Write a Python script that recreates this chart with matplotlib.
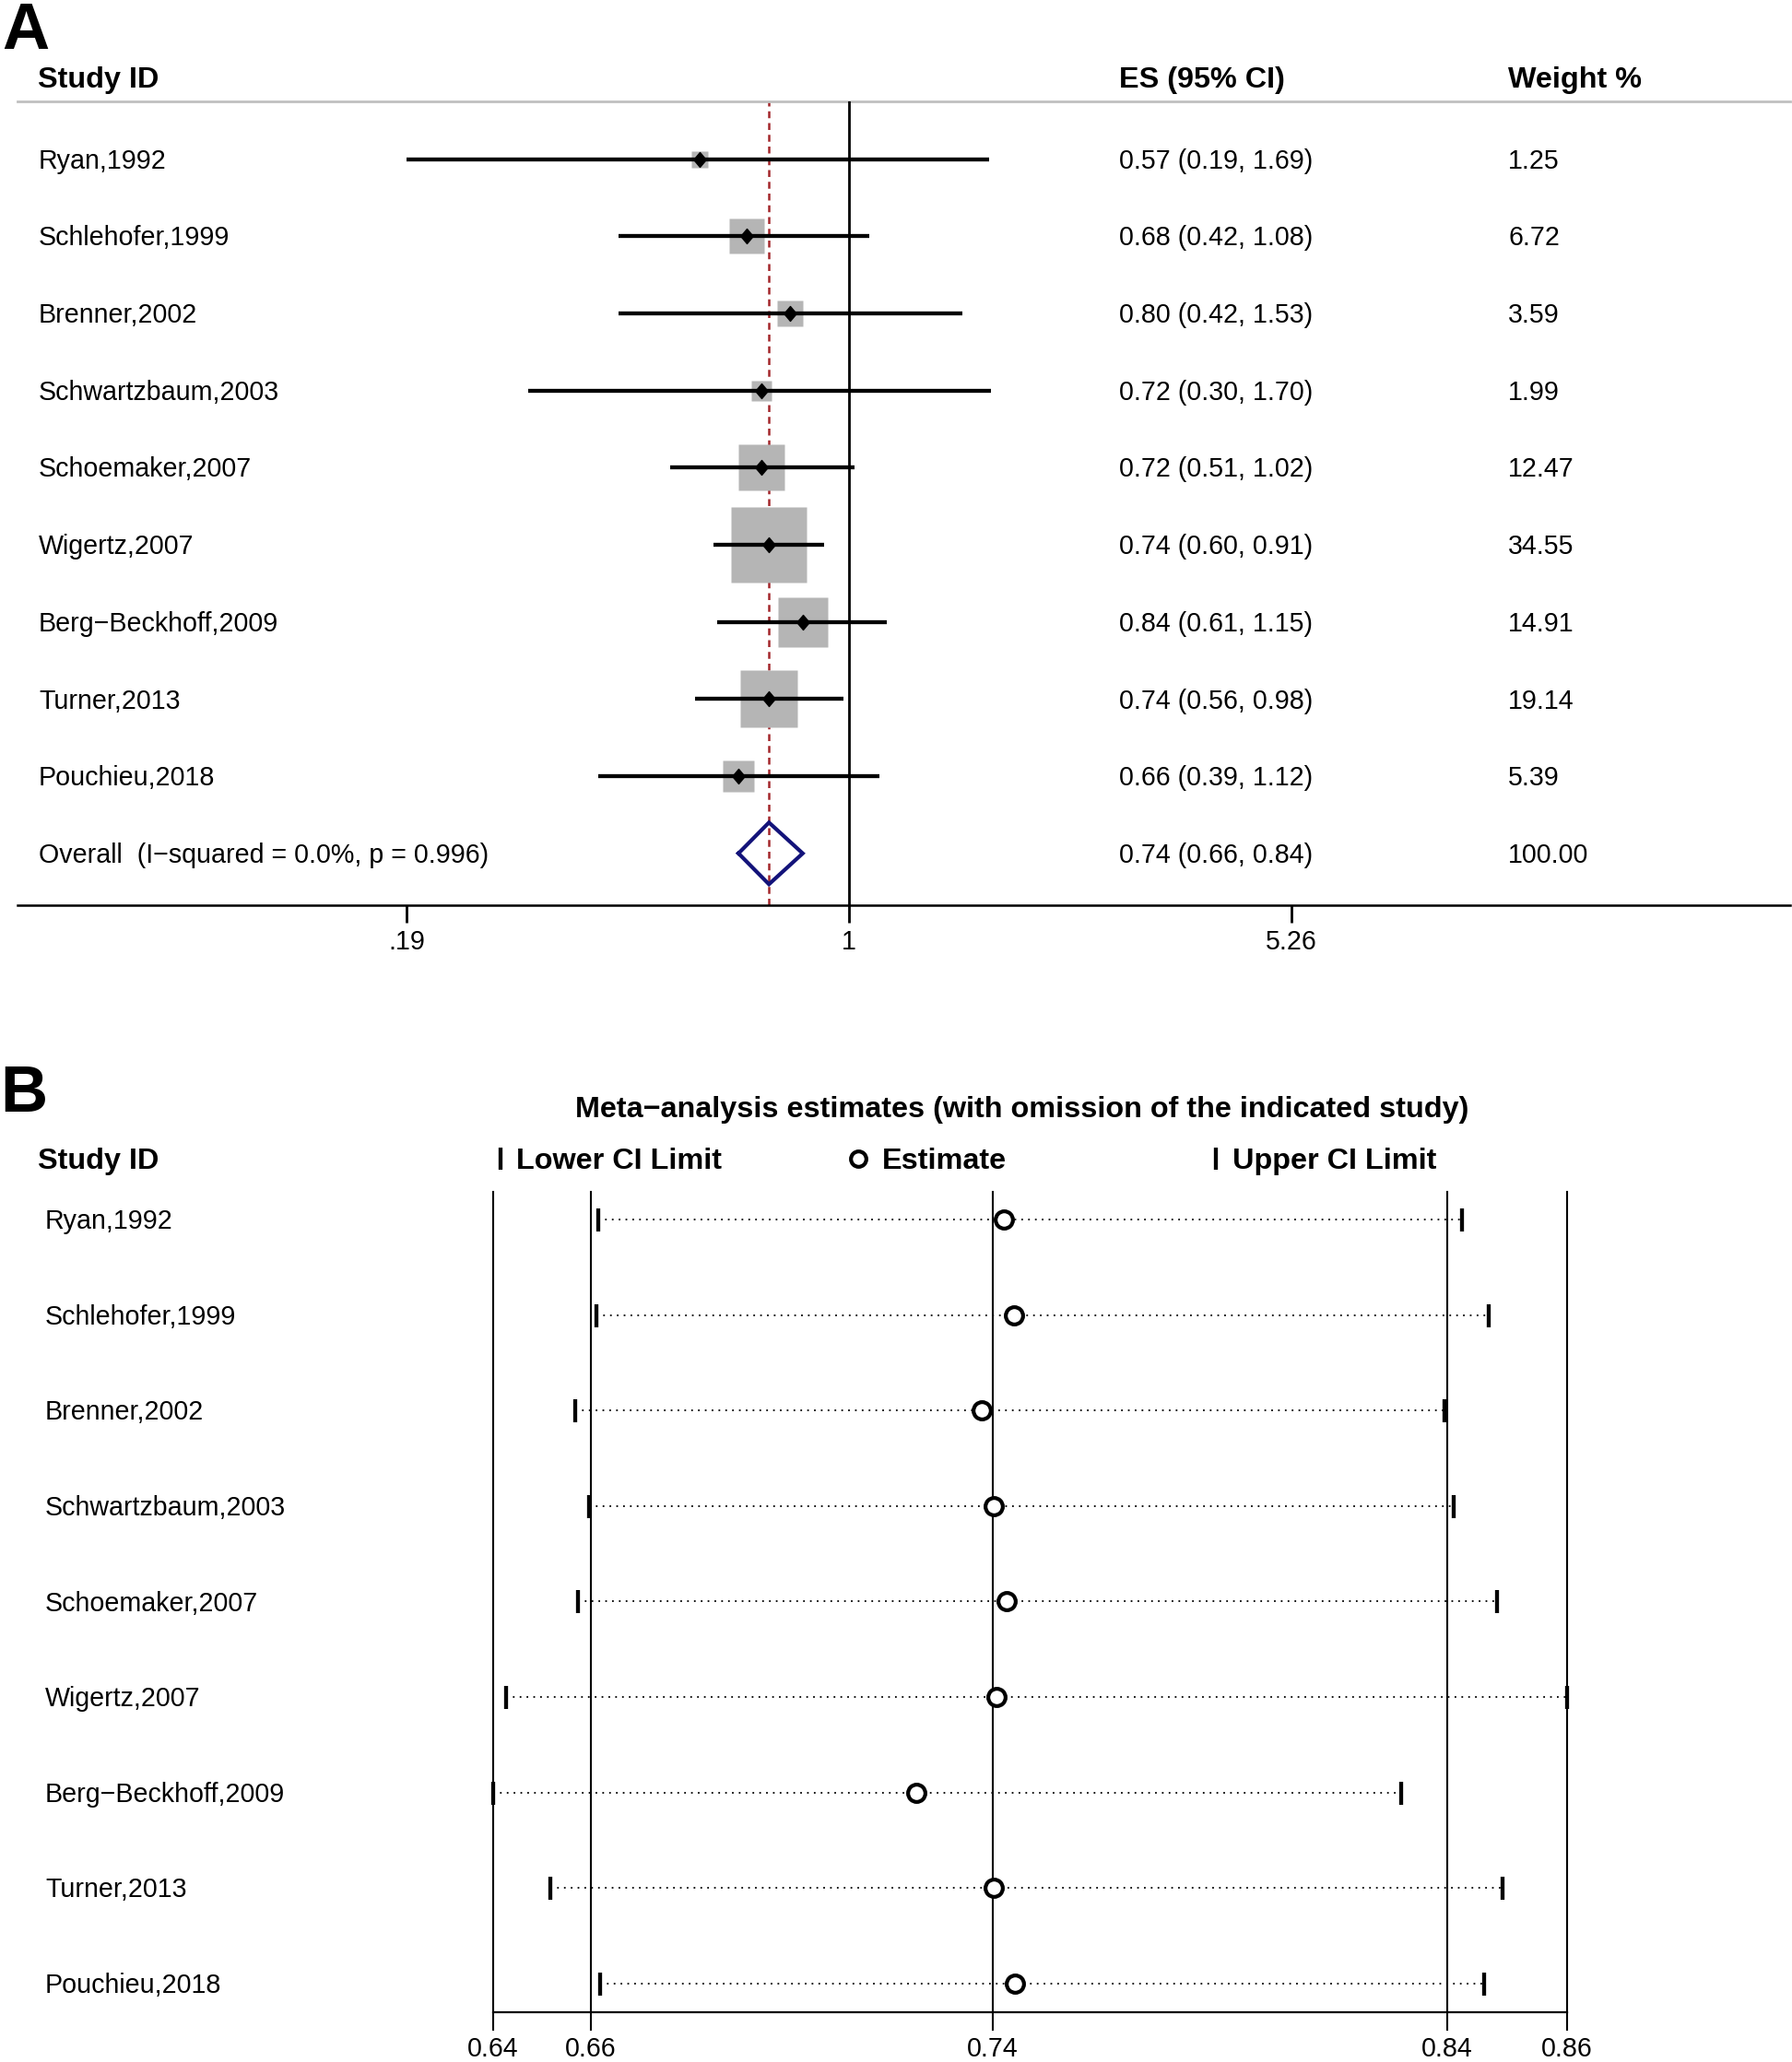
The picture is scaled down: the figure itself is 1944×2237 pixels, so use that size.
import numpy as np
import matplotlib
matplotlib.use('Agg')
import matplotlib.pyplot as plt
from matplotlib.lines import Line2D
from matplotlib.transforms import blended_transform_factory, offset_copy

plt.rcParams['font.family'] = ['Liberation Sans', 'DejaVu Sans']

# ---------------- data : panel A ----------------
studies = ["Ryan,1992", "Schlehofer,1999", "Brenner,2002", "Schwartzbaum,2003",
           "Schoemaker,2007", "Wigertz,2007", "Berg\u2212Beckhoff,2009", "Turner,2013",
           "Pouchieu,2018"]
es = [0.57, 0.68, 0.80, 0.72, 0.72, 0.74, 0.84, 0.74, 0.66]
ci_low = [0.19, 0.42, 0.42, 0.30, 0.51, 0.60, 0.61, 0.56, 0.39]
ci_high = [1.69, 1.08, 1.53, 1.70, 1.02, 0.91, 1.15, 0.98, 1.12]
weights = [1.25, 6.72, 3.59, 1.99, 12.47, 34.55, 14.91, 19.14, 5.39]
overall_es = 0.74
overall_low = 0.66
overall_high = 0.84
overall_weight = 100.00
overall_label = "Overall  (I\u2212squared = 0.0%, p = 0.996)"
a_ticks = [0.19, 1, 5.26]
a_tick_labels = [".19", "1", "5.26"]

# ---------------- data : panel B (leave-one-out) ----------------
loo_est = [0.7456, 0.7477, 0.7412, 0.7436, 0.7462, 0.7442, 0.7278, 0.7436, 0.7479]
loo_low = [0.6626, 0.6622, 0.6578, 0.6607, 0.6584, 0.6438, 0.6410, 0.6527, 0.6630]
loo_high = [0.8395, 0.8449, 0.8359, 0.8377, 0.8466, 0.8610, 0.8270, 0.8478, 0.8440]
b_ticks = [0.6410, 0.6611, 0.7433, 0.8365, 0.8610]
b_tick_labels = ["0.64", "0.66", "0.74", "0.84", "0.86"]
b_title = "Meta\u2212analysis estimates (with omission of the indicated study)"

# ---------------- layout ----------------
W, H = 1944, 2237
fig = plt.figure(figsize=(W / 100, H / 100), dpi=100)
FS = 20.6      # regular text
FSB = 23.3     # bold headers
FSL = 51       # panel letters


def rect(l, t, r, b):
    return [l / W, 1 - b / H, (r - l) / W, (b - t) / H]


def fig_text(xpx, ypx, s, fs, bold=False, ha='left'):
    tr = offset_copy(fig.transFigure, fig=fig, y=-0.355 * fs, units='points')
    fig.text(xpx / W, 1 - ypx / H, s, transform=tr, fontsize=fs,
             fontweight='bold' if bold else 'normal', ha=ha, va='baseline')


def row_text(ax, xpx, yval, s, fs, bold=False, ha='left'):
    tr = offset_copy(blended_transform_factory(fig.transFigure, ax.transData),
                     fig=fig, y=-0.355 * fs, units='points')
    ax.text(xpx / W, yval, s, transform=tr, fontsize=fs,
            fontweight='bold' if bold else 'normal', ha=ha, va='baseline', clip_on=False)


# ======================= PANEL A =======================
A_left, A_right, A_top, A_bot = 19, 1942, 110, 982
row0, pitch = 172.5, 83.7
x1_px, px_per_ln = 921.2, 288.97
axA = fig.add_axes(rect(A_left, A_top, A_right, A_bot))
axA.set_xscale('log')
axA.set_xlim(np.exp((A_left - x1_px) / px_per_ln), np.exp((A_right - x1_px) / px_per_ln))
axA.set_ylim((A_bot - row0) / pitch, (A_top - row0) / pitch)
axA.patch.set_alpha(0)

n = len(studies)
axA.axvline(overall_es, color='#a3262b', lw=1.8, ls=(0, (3.0, 2.1)), zorder=1)
axA.axvline(1, color='black', lw=2.0, zorder=3)

diamond = [(-0.42, 0), (0, 0.5), (0.42, 0), (0, -0.5), (-0.42, 0)]
for i in range(n):
    side_px = 13.09 * np.sqrt(weights[i]) + 4.07
    axA.plot(es[i], i, marker='s', ms=side_px * 0.72, color='#b5b5b5', mec='none',
             ls='none', zorder=2)
    axA.plot([ci_low[i], ci_high[i]], [i, i], color='black', lw=3.1,
             solid_capstyle='butt', zorder=3)
    axA.plot(es[i], i, marker=diamond, ms=11.5, color='black', ls='none', zorder=4)

yo = n
axA.plot([overall_low, overall_es, overall_high, overall_es, overall_low],
         [yo, yo - 0.4, yo, yo + 0.4, yo], color='#13137a', lw=3.0,
         solid_joinstyle='miter', zorder=4)

for s in ['left', 'right']:
    axA.spines[s].set_visible(False)
axA.spines['top'].set_color('#c0c0c0')
axA.spines['top'].set_linewidth(2.0)
axA.spines['bottom'].set_linewidth(1.8)
axA.set_yticks([])
axA.set_xticks(a_ticks)
axA.set_xticklabels(a_tick_labels)
axA.xaxis.set_minor_locator(matplotlib.ticker.NullLocator())
axA.tick_params(axis='x', length=13.5, width=2.0, pad=5, labelsize=FS)

for i in range(n):
    row_text(axA, 42, i, studies[i], FS)
    row_text(axA, 1214, i, f"{es[i]:.2f} ({ci_low[i]:.2f}, {ci_high[i]:.2f})", FS)
    row_text(axA, 1636, i, f"{weights[i]:.2f}", FS)
row_text(axA, 42, yo, overall_label, FS)
row_text(axA, 1214, yo, f"{overall_es:.2f} ({overall_low:.2f}, {overall_high:.2f})", FS)
row_text(axA, 1636, yo, f"{overall_weight:.2f}", FS)

fig_text(41, 84, "Study ID", FSB, bold=True)
fig_text(1214, 84, "ES (95% CI)", FSB, bold=True)
fig_text(1636, 84, "Weight %", FSB, bold=True)
fig_text(2, 28, "A", FSL, bold=True)

# ======================= PANEL B =======================
B_left, B_right, B_top, B_bot = 534.6, 1700, 1293, 2183
rowB0, pitchB = 1323, 103.6
axB = fig.add_axes(rect(B_left, B_top, B_right, B_bot))
axB.set_xlim(b_ticks[0], b_ticks[-1])
axB.set_ylim((B_bot - rowB0) / pitchB, (B_top - rowB0) / pitchB)
axB.patch.set_alpha(0)

for t in b_ticks:
    axB.axvline(t, color='black', lw=1.5, zorder=1, clip_on=False)

for i in range(n):
    axB.plot([loo_low[i], loo_high[i]], [i, i], color='black', lw=1.3,
             ls=(0, (1, 3.1)), zorder=2)
    axB.plot([loo_low[i], loo_high[i]], [i, i], marker='|', ms=18, mew=3.1,
             color='black', ls='none', zorder=3, clip_on=False)
    axB.plot(loo_est[i], i, marker='o', ms=13.5, mew=3.0, mfc='white', mec='black',
             ls='none', zorder=4)
    row_text(axB, 49, i, studies[i], FS)

for s in ['left', 'right', 'top']:
    axB.spines[s].set_visible(False)
axB.spines['bottom'].set_linewidth(1.6)
axB.set_yticks([])
axB.set_xticks(b_ticks)
axB.set_xticklabels(b_tick_labels)
axB.tick_params(axis='x', length=14.4, width=1.5, pad=4.0, labelsize=FS)

fig_text(0, 1181, "B", FSL, bold=True)
fig_text(1109, 1201, b_title, FSB, bold=True, ha='center')
fig_text(41, 1257, "Study ID", FSB, bold=True)

# legend row
leg_y = 1 - 1257 / H
fig.add_artist(Line2D([543 / W], [leg_y], marker='|', ms=17, mew=3.1, color='black',
                      ls='none', transform=fig.transFigure))
fig_text(560, 1257, "Lower CI Limit", FSB, bold=True)
fig.add_artist(Line2D([931 / W], [leg_y], marker='o', ms=12, mew=3.0, mfc='none',
                      mec='black', ls='none', transform=fig.transFigure))
fig_text(957, 1257, "Estimate", FSB, bold=True)
fig.add_artist(Line2D([1319 / W], [leg_y], marker='|', ms=17, mew=3.1, color='black',
                      ls='none', transform=fig.transFigure))
fig_text(1337, 1257, "Upper CI Limit", FSB, bold=True)

fig.savefig("out.png", dpi=100, facecolor='white')
